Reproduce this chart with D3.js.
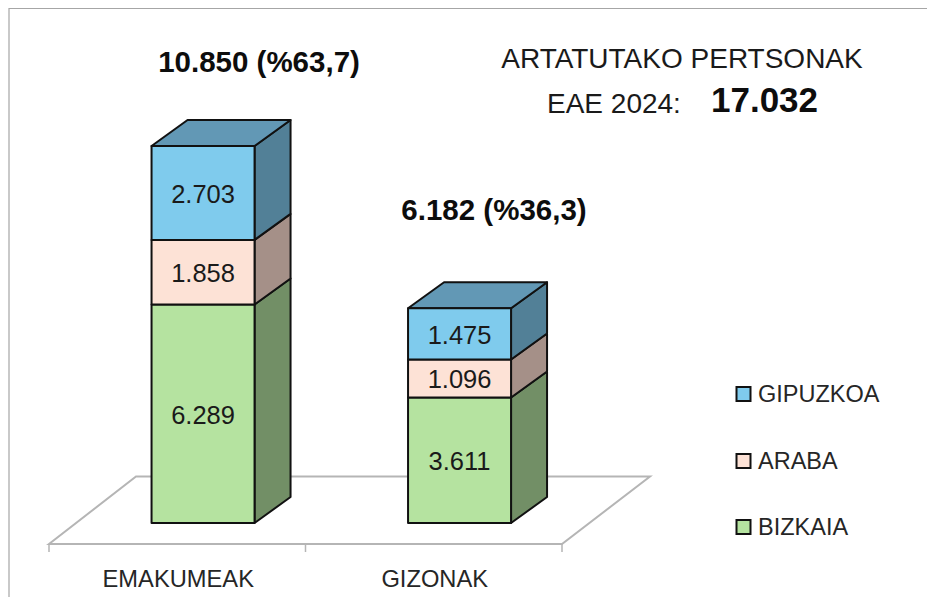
<!DOCTYPE html>
<html><head><meta charset="utf-8">
<script src="https://cdn.jsdelivr.net/npm/d3@7"></script>
<style>html,body{margin:0;padding:0;background:#fff}svg{display:block}text{font-family:"Liberation Sans",sans-serif}</style>
</head><body><svg id="c" width="927" height="597"></svg>
<script>
const categories = ["EMAKUMEAK", "GIZONAK"];
const seriesNames = ["BIZKAIA", "ARABA", "GIPUZKOA"];
const bizkaia = [6289, 3611];
const araba = [1858, 1096];
const gipuzkoa = [2703, 1475];
const valueLabels = [["6.289","3.611"],["1.858","1.096"],["2.703","1.475"]];
const totalLabels = ["10.850 (%63,7)", "6.182 (%36,3)"];
const frontColors = ["#b5e3a0","#fde2d6","#7fcbed"];
const sideColors = ["#728f66","#a59088","#528097"];
const topColors = ["#728f66","#a59088","#6298b5"];
const series = [bizkaia, araba, gipuzkoa];

const svg = d3.select("#c");
const x = d3.scaleBand().domain(categories).range([49, 562]);
const y = d3.scaleLinear().domain([0, 10850]).range([523, 146]);
const barW = 103, dx = 36, dy = -26;
const barX = c => x(c) + (x.bandwidth() - barW) / 2 + 25.8;
const path = p => "M" + p.map(d => d.join(",")).join("L") + "Z";

// frame
svg.append("path").attr("d","M9,597V8.5H927").attr("fill","none").attr("stroke","#a6a6a6").attr("stroke-width",1.2);

// floor
svg.append("path").attr("d", path([[49,544],[136,476.5],[650,476.5],[562,544]]))
  .attr("fill","#fff").attr("stroke","#b5b5b5").attr("stroke-width",2);
const ticks = [49, x("GIZONAK"), 562];
svg.selectAll(".tick").data(ticks).join("line").attr("x1",d=>d).attr("x2",d=>d).attr("y1",544).attr("y2",552)
  .attr("stroke","#b5b5b5").attr("stroke-width",1.5);
svg.selectAll(".cat").data(categories).join("text")
  .attr("x",c=>x(c)+x.bandwidth()/2+1).attr("y",587).attr("text-anchor","middle")
  .attr("font-size",23.7).attr("fill","#262626").text(c=>c);

// bars
categories.forEach((c,i)=>{
  const x0 = barX(c), x1 = x0 + barW;
  let acc = 0;
  series.forEach((s,k)=>{
    const b = y(acc), t = y(acc + s[i]);
    acc += s[i];
    const g = svg.append("g").attr("stroke","#111").attr("stroke-width",2).attr("stroke-linejoin","round");
    g.append("path").attr("d",path([[x1,b],[x1+dx,b+dy],[x1+dx,t+dy],[x1,t]])).attr("fill",sideColors[k]);
    if(k===2) g.append("path").attr("d",path([[x0,t],[x0+dx,t+dy],[x1+dx,t+dy],[x1,t]])).attr("fill",topColors[k]);
    g.append("rect").attr("x",x0).attr("y",t).attr("width",barW).attr("height",b-t).attr("fill",frontColors[k]);
    svg.append("text").attr("x",x0+barW/2).attr("y",(b+t)/2+10).attr("text-anchor","middle")
      .attr("font-size",25.5).attr("fill","#1a1a1a").text(valueLabels[k][i]);
  });
});

// totals
svg.append("text").attr("x",259).attr("y",72).attr("text-anchor","middle").attr("font-size",29.5).attr("font-weight",700).attr("fill","#0d0d0d").text(totalLabels[0]);
svg.append("text").attr("x",494).attr("y",220).attr("text-anchor","middle").attr("font-size",29.5).attr("font-weight",700).attr("fill","#0d0d0d").text(totalLabels[1]);

// title
svg.append("text").attr("x",682).attr("y",68).attr("text-anchor","middle").attr("font-size",28).attr("fill","#1a1a1a").text("ARTATUTAKO PERTSONAK");
svg.append("text").attr("x",547).attr("y",113).attr("font-size",28).attr("fill","#1a1a1a").text("EAE 2024:");
svg.append("text").attr("x",711).attr("y",112).attr("font-size",35).attr("font-weight",700).attr("fill","#0d0d0d").text("17.032");

// legend
const legendY = {GIPUZKOA:394, ARABA:461, BIZKAIA:527};
seriesNames.forEach((n,k)=>{
  svg.append("rect").attr("x",736.5).attr("y",legendY[n]-7).attr("width",14).attr("height",14).attr("fill",frontColors[k]).attr("stroke","#111").attr("stroke-width",2);
  svg.append("text").attr("x",758).attr("y",legendY[n]+8).attr("font-size",23.5).attr("fill","#262626").text(n);
});
</script></body></html>
